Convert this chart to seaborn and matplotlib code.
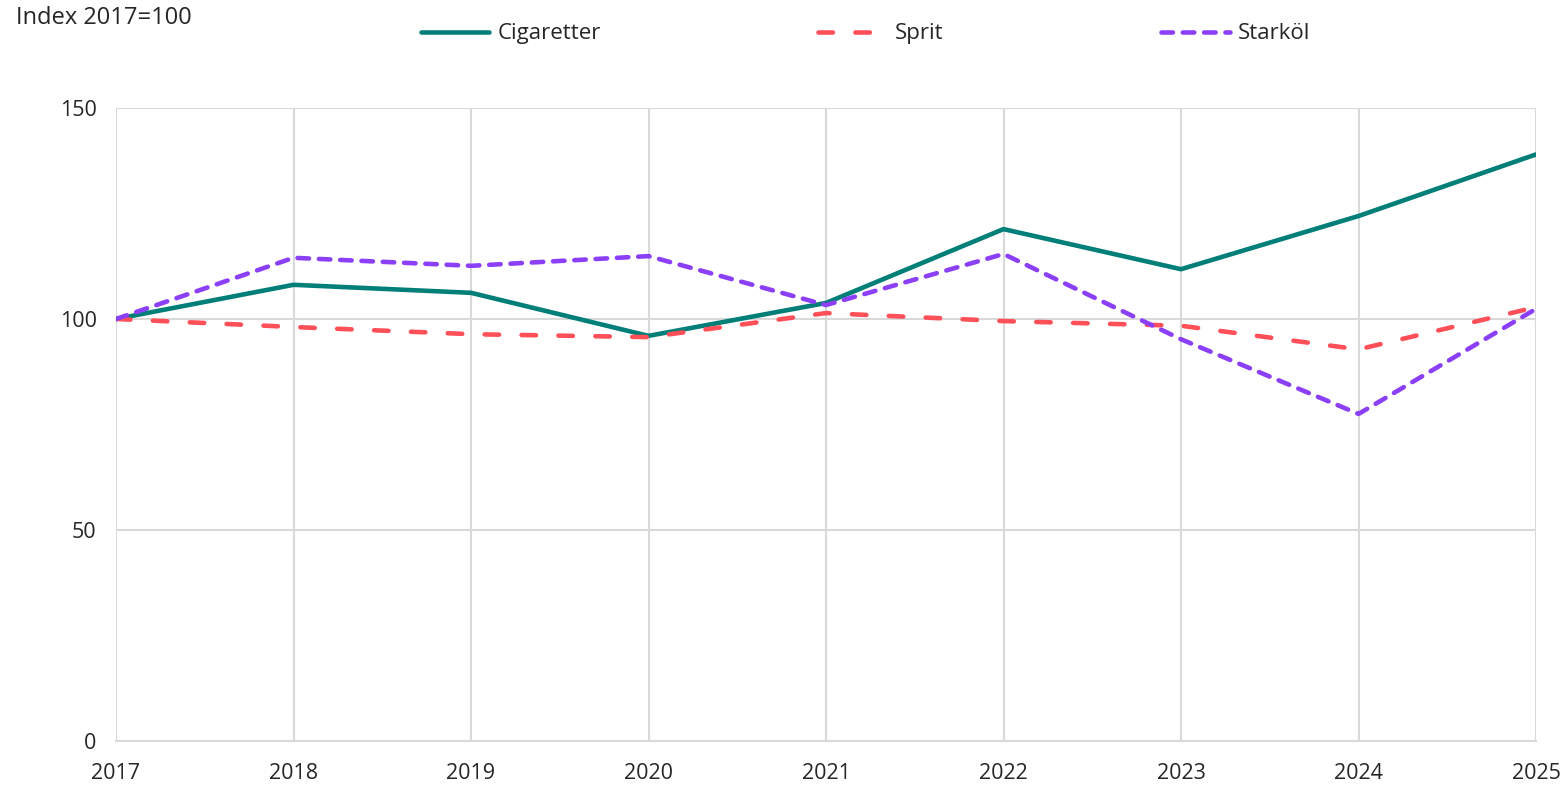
import numpy as np
import pandas as pd
import matplotlib
matplotlib.use("Agg")
import matplotlib.pyplot as plt
import seaborn as sns

# values (index 2017=100)
years = [2017, 2018, 2019, 2020, 2021, 2022, 2023, 2024, 2025]
cigaretter = [100, 108.1, 106.2, 96.0, 103.8, 121.3, 111.8, 124.4, 139.0]
sprit = [100, 98.1, 96.4, 95.7, 101.4, 99.5, 98.4, 92.8, 102.8]
starkol = [100, 114.5, 112.6, 114.9, 103.3, 115.4, 95.2, 77.5, 102.4]
series_names = ["Cigaretter", "Sprit", "Starköl"]
y_ticks = [0, 50, 100, 150]

colors = {"Cigaretter": "#007E78", "Sprit": "#FF505A", "Starköl": "#8B40F8"}
dashes = {"Cigaretter": "", "Sprit": (3.15, 4.9), "Starköl": (2.5, 2.15)}

df = pd.DataFrame({
    "year": years * 3,
    "value": cigaretter + sprit + starkol,
    "serie": sum([[n] * len(years) for n in series_names], []),
})

sns.set_style("white")
plt.rcParams["font.family"] = ["Open Sans", "DejaVu Sans"]

fig = plt.figure(figsize=(15.68, 7.86), dpi=100)
ax = fig.add_axes([0.074, 0.0573, 0.9056, 0.8053])

sns.lineplot(data=df, x="year", y="value", hue="serie", style="serie",
             palette=colors, dashes=dashes, hue_order=series_names,
             style_order=series_names, linewidth=3.3, legend=False, ax=ax)
for ln in ax.lines:
    ln.set_dash_capstyle("round")
    ln.set_solid_capstyle("round")
    ln.set_zorder(3)

ax.set_xlim(2017, 2025)
ax.set_ylim(0, 150)
ax.set_xticks(years)
ax.set_yticks(y_ticks)
ax.grid(True, color="#d9d9d9", linewidth=1.5)
ax.set_axisbelow(True)
for s in ["top", "right", "left"]:
    ax.spines[s].set_visible(False)
ax.spines["bottom"].set_color("#d9d9d9")
ax.spines["bottom"].set_linewidth(1.5)
ax.tick_params(axis="y", length=6, width=1.5, color="#d9d9d9", labelsize=15.5, pad=8)
ax.tick_params(axis="x", length=6, width=1.5, color="#d9d9d9", labelsize=15.5, pad=10)
ax.set_xlabel("")
ax.set_ylabel("")

fig.text(0.010, 0.977, "Index 2017=100", fontsize=17, va="center", ha="left")

handles = list(ax.lines[:3])
fig.legend(handles, series_names, loc="center", bbox_to_anchor=(0.552, 0.957),
           ncol=3, frameon=False, fontsize=16, handlelength=3.1,
           handletextpad=0.35, columnspacing=9.8)

fig.savefig("out.png", dpi=100)
